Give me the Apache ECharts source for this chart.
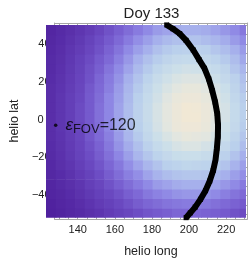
<!DOCTYPE html>
<html><head><meta charset="utf-8">
<script src="https://cdn.jsdelivr.net/npm/echarts@6/dist/echarts.min.js"></script>
<style>html,body{margin:0;padding:0;background:#fff}#c{width:249px;height:263px}</style>
</head><body><div id="c"></div>
<script>
const titleText = 'Doy 133';
const xName = 'helio long';
const yName = 'helio lat';
const lonCenters = [130,135,140,145,150,155,160,165,170,175,180,185,190,195,200,205,210,215,220,225,230];
const latCenters = [-47.5,-42.5,-37.5,-32.5,-27.5,-22.5,-17.5,-12.5,-7.5,-2.5,2.5,7.5,12.5,17.5,22.5,27.5,32.5,37.5,42.5,47.5];
// estimated colour level (0 = dark purple, 100 = cream), rows from bottom (lat -47.5) to top (lat 47.5)
const levels = [
  [6,8,11,13,16,19,23,26,29,32,35,37,39,41,41,41,40,39,37,34,31],
  [7,10,12,15,19,23,26,30,34,38,41,43,45,46,47,47,46,44,42,40,37],
  [9,11,14,18,22,26,30,34,39,42,46,49,51,53,54,54,53,51,48,45,42],
  [10,13,16,20,25,29,34,39,43,47,51,55,57,59,60,60,59,57,54,51,47],
  [11,14,18,23,27,32,38,43,48,52,57,61,64,66,67,67,66,63,60,56,52],
  [12,16,20,25,30,35,41,46,52,57,62,66,70,72,74,73,72,69,66,61,56],
  [13,17,22,27,32,38,44,50,56,62,67,72,76,79,80,80,78,75,71,66,60],
  [14,18,23,28,34,40,46,53,59,65,71,77,81,85,87,87,84,80,76,70,64],
  [15,19,24,29,36,42,48,55,62,68,75,81,86,90,93,92,90,85,80,73,67],
  [15,20,25,30,37,43,50,57,63,70,77,84,90,95,97,97,94,89,82,76,69],
  [15,20,25,31,37,44,50,57,64,71,78,85,91,96,99,99,95,90,84,77,70],
  [15,20,25,31,37,44,50,57,64,71,78,85,91,96,99,98,95,90,84,77,70],
  [15,20,25,30,37,43,50,56,63,70,77,83,89,94,96,96,93,88,82,75,69],
  [15,19,24,29,36,42,48,55,62,68,75,81,86,90,93,93,90,85,80,73,67],
  [14,18,23,28,34,41,47,53,60,66,72,78,82,86,88,88,86,81,76,71,65],
  [13,17,22,27,33,39,45,51,57,63,68,74,78,81,83,82,80,77,73,67,62],
  [13,16,21,26,31,37,42,48,54,60,65,69,73,76,77,77,75,72,68,64,58],
  [12,15,20,24,29,34,40,45,51,56,60,65,68,70,71,71,70,67,64,60,55],
  [11,14,18,22,27,32,37,42,47,52,56,60,63,65,66,66,64,62,59,55,51],
  [10,13,16,20,24,29,34,39,43,47,51,55,57,59,60,60,59,57,54,51,46]
];
const curveLon = [189.8,193,196.5,199.8,203.5,206.5,209.3,211.5,213.3,214.8,215.9,216.3,216.2,215.7,215,213.8,212,209.8,207.2,204.5,202,199.8];
const curveLat = [50,48,45.5,42,37,32,27.5,22,16,10,4,-2,-8,-14,-20,-25.5,-31,-36,-40.5,-44.5,-47.5,-50];
const xMajor = [140,160,180,200,220];
const xMinor = [130,135,145,150,155,165,170,175,185,190,195,205,210,215,225,230];
const yMajor = [-40,-20,0,20,40];
const yMinor = [-50,-45,-35,-30,-25,-15,-10,-5,5,10,15,25,30,35,45,50];
const fovPoint = [132.5, -2];
const fovValue = 120;

const heatData = [];
latCenters.forEach((lat, i) => lonCenters.forEach((lon, j) => heatData.push([lon, lat, levels[i][j]])));
const curveData = curveLon.map((v, i) => [v, curveLat[i]]);

const FONT = 'Liberation Sans';
const frameColor = '#a6a6a6';
const labelColor = '#222';
const halfW = 2.5, halfH = 2.5;

function frameAxis(pos, isX, values, len, showLine, label) {
  const a = {
    type: 'value', gridIndex: 0, position: pos,
    min: isX ? 127.5 : -52.5, max: isX ? 231.4 : 51,
    axisLine: { show: showLine, onZero: false, lineStyle: { color: frameColor, width: 1 } },
    axisTick: { show: true, inside: true, length: len, customValues: values, lineStyle: { color: frameColor } },
    axisLabel: { show: false },
    splitLine: { show: false }
  };
  if (label) a.axisLabel = label;
  return a;
}

const chart = echarts.init(document.getElementById('c'), null, { renderer: 'canvas' });
chart.setOption({
  animation: false,
  title: { text: titleText, left: 146.5, top: 1, textAlign: 'center',
    textStyle: { fontFamily: FONT, fontSize: 15, fontWeight: 'normal', color: labelColor } },
  grid: [
    { left: 46, right: 1.7, top: 23, bottom: 40.5 },
    { left: 46, right: 3.06, top: 24.93, bottom: 45.32 }
  ],
  visualMap: {
    type: 'continuous', show: false, seriesIndex: 0, dimension: 2, min: 0, max: 100,
    inRange: { color: ['#4a1a98','#5326a2','#5e36b0','#6a48c0','#7a62d2','#8e86e4','#a6b0ec','#bad0ec','#cadeea','#e2e6e0','#f3e8d4'] }
  },
  xAxis: [
    Object.assign(frameAxis('bottom', true, xMajor, 4, true, {
      show: true, customValues: xMajor, margin: 5, fontFamily: FONT, fontSize: 11, color: labelColor }), {
      name: xName, nameLocation: 'middle', nameGap: 26,
      nameTextStyle: { fontFamily: FONT, fontSize: 12.5, color: labelColor } }),
    frameAxis('bottom', true, xMinor, 2, false),
    frameAxis('top', true, xMajor, 4, true),
    frameAxis('top', true, xMinor, 2, false),
    { type: 'value', gridIndex: 1, min: 127.5, max: 230.7, show: false }
  ],
  yAxis: [
    Object.assign(frameAxis('left', false, yMajor, 4, true, {
      show: true, customValues: yMajor, margin: 4, fontFamily: FONT, fontSize: 11, color: labelColor,
      formatter: v => v === 0 ? '{z|0}' : (v < 0 ? '\u2212' + (-v) : '' + v),
      rich: { z: { fontFamily: FONT, fontSize: 11, color: labelColor, padding: [0, 7, 0, 0] } } }), {
      name: yName, nameLocation: 'middle', nameGap: 32, nameRotate: 90,
      nameTextStyle: { fontFamily: FONT, fontSize: 12.5, color: labelColor } }),
    frameAxis('left', false, yMinor, 2, false),
    frameAxis('right', false, yMajor, 4, true),
    frameAxis('right', false, yMinor, 2, false),
    { type: 'value', gridIndex: 1, min: -50, max: 50, show: false }
  ],
  series: [
    {
      type: 'custom', xAxisIndex: 4, yAxisIndex: 4, clip: true, data: heatData,
      encode: { x: 0, y: 1 },
      renderItem: (params, api) => {
        const x = api.value(0), y = api.value(1);
        const p0 = api.coord([x - halfW, y + halfH]);
        const p1 = api.coord([x + halfW, y - halfH]);
        return { type: 'rect',
          shape: { x: p0[0], y: p0[1], width: p1[0] - p0[0] + 0.7, height: p1[1] - p0[1] + 0.7 },
          style: { fill: api.visual('color') } };
      }
    },
    {
      type: 'line', xAxisIndex: 4, yAxisIndex: 4, clip: true, data: curveData,
      symbol: 'rect', symbolSize: 5, showSymbol: true, itemStyle: { color: '#000' },
      lineStyle: { color: '#000', width: 6, join: 'round' }, z: 5
    },
    {
      type: 'scatter', xAxisIndex: 4, yAxisIndex: 4, data: [fovPoint], symbolSize: 3.5,
      itemStyle: { color: '#000' }, z: 6,
      label: {
        show: true, position: 'right', distance: 8,
        formatter: () => '{e|\u03b5}{s|FOV}{n|=' + fovValue + '}',
        rich: {
          e: { fontFamily: FONT, fontSize: 17, fontStyle: 'italic', color: '#000' },
          s: { fontFamily: FONT, fontSize: 13, color: '#000', padding: [8, 0, 0, 0] },
          n: { fontFamily: FONT, fontSize: 16, color: '#000' }
        }
      }
    }
  ]
});
</script></body></html>
